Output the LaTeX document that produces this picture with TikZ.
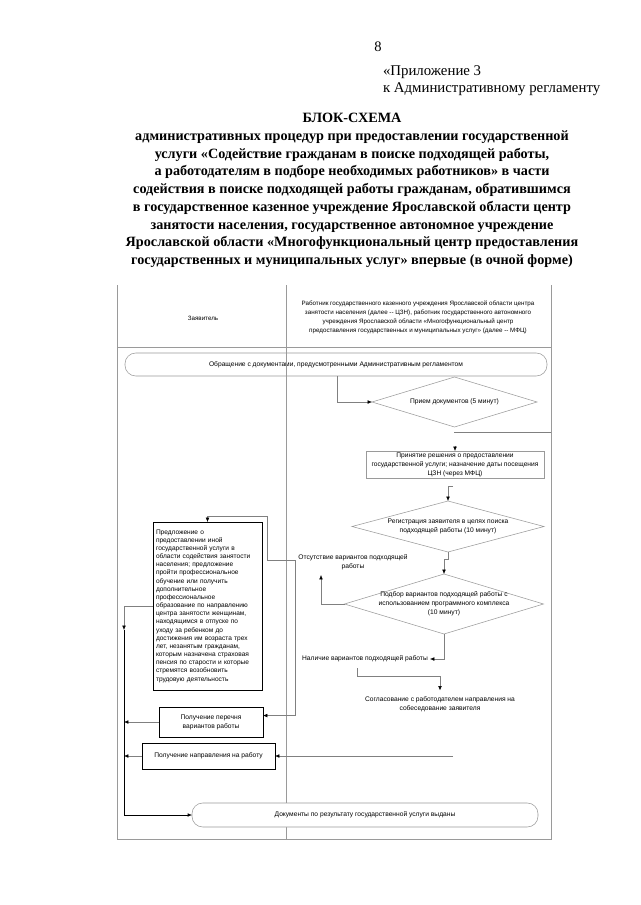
\documentclass[tikz,border=0pt]{standalone}
\usepackage{fontspec}
\setmainfont{Liberation Serif}
\newfontfamily\diafont{Liberation Sans}
\usetikzlibrary{arrows.meta,shapes.geometric}
\def\pxu{0.9302pt}
\definecolor{lgray}{HTML}{9A9A9A}
\definecolor{cgray}{HTML}{808080}
\begin{document}
\begin{tikzpicture}[x=0.9302pt,y=-0.9302pt,
  every node/.style={inner sep=0pt, outer sep=0pt},
  ttl/.style={font=\fontsize{13.2}{16.5}\selectfont\bfseries, align=center},
  plain/.style={font=\fontsize{13.8}{15.8}\selectfont, align=left},
  dtext/.style={font=\diafont\fontsize{6.2}{8.4}\selectfont, align=center},
  htext/.style={font=\diafont\fontsize{5.8}{8.3}\selectfont, align=center},
  gbox/.style={draw=lgray, line width=0.5pt, dtext},
  kbox/.style={draw=black, line width=0.8pt, dtext},
  rbox/.style={draw=lgray, line width=0.5pt, rounded corners=10pt, dtext},
  dia/.style={diamond, draw=lgray, line width=0.5pt},
  frameline/.style={draw=lgray, line width=0.6pt},
  gl/.style={draw=cgray, line width=0.5pt},
  bl/.style={draw=black, line width=0.6pt},
  arr/.style={-{Latex[length=4pt,width=3.4pt,color=black]}}
]
\fill[white] (0,0) rectangle (640,905);
\useasboundingbox (0,0) rectangle (640,905);

% title
\node[font=\fontsize{13.5}{16}\selectfont] (pg) at (378,47) {8};
\node[plain, anchor=west] (app) at (383,80.5) {«Приложение 3\\к Административному регламенту};
\node[ttl] (title) at (352,190.5) {БЛОК-СХЕМА\\
административных процедур при предоставлении государственной\\
услуги «Содействие гражданам в поиске подходящей работы,\\
а работодателям в подборе необходимых работников» в части\\
содействия в поиске подходящей работы гражданам, обратившимся\\
в государственное казенное учреждение Ярославской области центр\\
занятости населения, государственное автономное учреждение\\
Ярославской области «Многофункциональный центр предоставления\\
государственных и муниципальных услуг» впервые (в очной форме)};

% frame
\coordinate (fTL) at (117,285);
\coordinate (fTR) at (551,285);
\coordinate (fBL) at (117,839);
\coordinate (fBR) at (551,839);
\coordinate (dT) at (286,285);
\coordinate (dB) at (286,839);
\coordinate (hL) at (117,347);
\coordinate (hR) at (551,347);
\draw[frameline] (fTL) -- (fBL) -- (fBR) -- (fTR);
\draw[frameline] (hL) -- (hR);

\node[htext] (zay) at (203,318) {Заявитель};
\node[htext] (rab) at (418,317) {Работник государственного казенного учреждения Ярославской области центра\\
занятости населения (далее -- ЦЗН), работник государственного автономного\\
учреждения Ярославской области «Многофункциональный центр\\
предоставления государственных и муниципальных услуг» (далее -- МФЦ)};

% first box
\node[rbox, minimum width=422*\pxu, minimum height=23*\pxu] (obr) at (336,364.5)
  {Обращение с документами, предусмотренными Административным регламентом};
\draw[frameline] (dT) -- (dB);

% right lane
\node[dia, minimum width=165*\pxu, minimum height=50*\pxu] (priem) at (454.5,402) {};
\node[dtext] (priemT) at (priem.center) {Прием документов (5 минут)};
\coordinate (c1) at (337,376);
\draw[gl,arr] (obr.south -| c1) |- (priem.west);
\coordinate (h1) at (454,432);
\draw[gl] (h1) -- (h1 -| fTR);

\node[gbox, minimum width=178*\pxu, minimum height=27*\pxu] (prin) at (455,464.5)
  {Принятие решения о предоставлении\\государственной услуги; назначение даты посещения\\ЦЗН (через МФЦ)};
\draw[gl,arr] ([yshift=5pt]prin.north) -- (prin.north);

\node[dia, minimum width=192*\pxu, minimum height=51*\pxu] (reg) at (448,526.5) {};
\node[dtext] (regT) at (reg.center) {Регистрация заявителя в целях поиска\\подходящей работы (10 минут)};
\coordinate (k1) at (453,486);
\draw[gl,arr] (k1) -| (reg.north);

\node[dia, minimum width=199*\pxu, minimum height=60*\pxu] (pod) at (444,604) {};
\node[dtext] (podT) at (pod.center) {Подбор вариантов подходящей работы с\\использованием программного комплекса\\(10 минут)};
\coordinate (k0) at (448,559);
\draw[gl,arr] (reg.south) -- (k0) -| (pod.north);

\node[dtext] (ots) at (353,562) {Отсутствие вариантов подходящей\\работы};
\coordinate (k2) at (321,575);
\draw[gl,arr] (pod.west) -| (k2);

\node[dtext] (nal) at (365,659) {Наличие вариантов подходящей работы};
\draw[gl,arr] (pod.south) |- ([xshift=2pt]nal.east);

\node[dtext] (sog) at (440,704.5) {Согласование с работодателем направления на\\собеседование заявителя};
\coordinate (k6) at (357,668);
\coordinate (k7) at (357,676);
\draw[gl,arr] (k6) -- (k7) -| ([yshift=6pt]sog.north);

% left lane
\node[kbox, minimum width=109*\pxu, minimum height=168*\pxu, text width=103*\pxu,
  align=left, font=\diafont\fontsize{6.1}{7.6}\selectfont] (pred) at (207.5,606)
 {Предложение о\\
предоставлении иной\\
государственной услуги в\\
области содействия занятости\\
населения; предложение\\
пройти профессиональное\\
обучение или получить\\
дополнительное\\
профессиональное\\
образование по направлению\\
центра занятости женщинам,\\
находящимся в отпуске по\\
уходу за ребенком до\\
достижения им возраста трех\\
лет, незанятым гражданам,\\
которым назначена страховая\\
пенсия по старости и которые\\
стремятся возобновить\\
трудовую деятельность};

\node[kbox, minimum width=104*\pxu, minimum height=30*\pxu] (pere) at (211,722)
  {Получение перечня\\вариантов работы};
\node[kbox, minimum width=133*\pxu, minimum height=26*\pxu] (napr) at (208.5,756)
  {Получение направления на работу};

\coordinate (k3) at (295,560);
\coordinate (k4) at (267,516);
\draw[gl,arr] (k3) -| (k4) -| (pred.north);
\draw[gl,arr] (k3) |- ([yshift=6pt]pere.east);

\coordinate (bus) at (124,630);
\draw[gl,arr] (pred.west) -| (bus);

\node[rbox, fill=white, minimum width=346*\pxu, minimum height=24*\pxu] (doc) at (365,815)
  {Документы по результату государственной услуги выданы};
\draw[bl,arr] (bus) |- (doc.west);
\draw[gl,arr] (pere.west) -- (pere.west -| bus);
\draw[gl,arr] (napr.west) -- (napr.west -| bus);
\coordinate (k5) at (453,756);
\draw[gl,arr] (k5) -- (napr.east);
\end{tikzpicture}
\end{document}
